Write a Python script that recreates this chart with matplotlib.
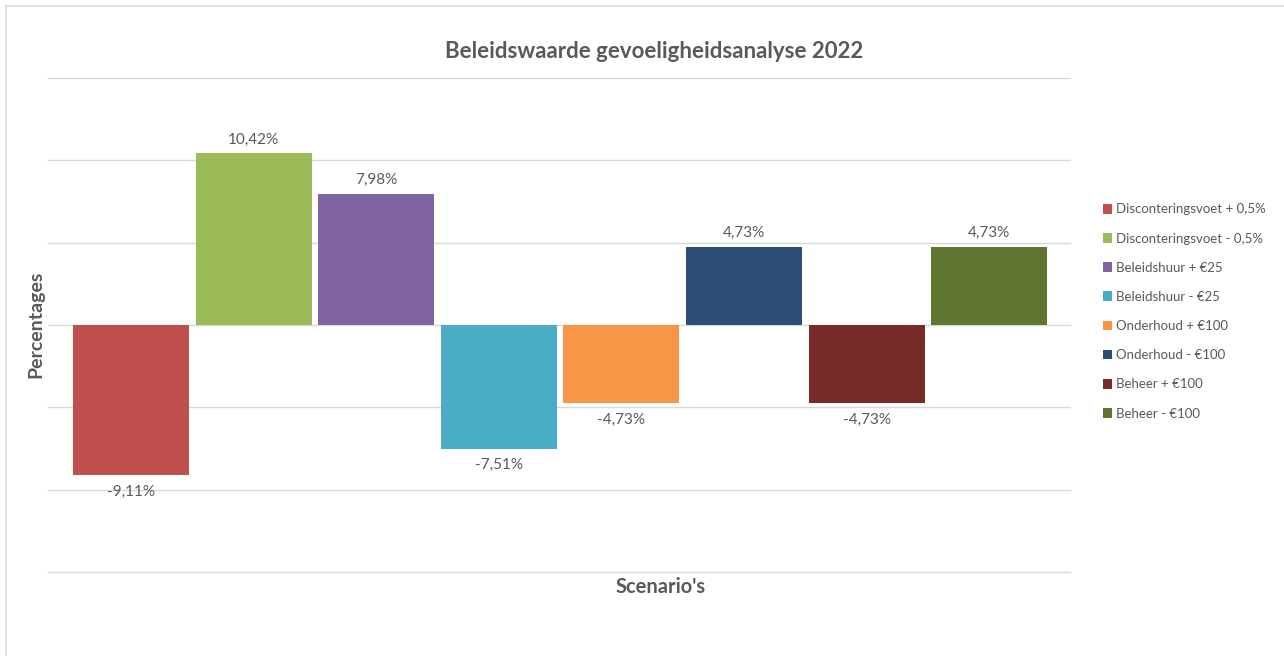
import matplotlib
matplotlib.use("Agg")
import matplotlib.pyplot as plt
from matplotlib.lines import Line2D

plt.rcParams['font.family'] = ['Lato', 'DejaVu Sans']

scenarios = ["Disconteringsvoet + 0,5%", "Disconteringsvoet - 0,5%", "Beleidshuur + €25",
             "Beleidshuur - €25", "Onderhoud + €100", "Onderhoud - €100",
             "Beheer + €100", "Beheer - €100"]
values = [-9.11, 10.42, 7.98, -7.51, -4.73, 4.73, -4.73, 4.73]
colors = ["#C0504D", "#9BBB59", "#8064A2", "#4BACC6", "#F79646", "#2C4D75", "#772C2A", "#5F7530"]
gridticks = [-15, -10, -5, 0, 5, 10, 15]

W, H = 1284, 656
fig = plt.figure(figsize=(W / 100, H / 100), dpi=100)
ax = fig.add_axes([48 / W, 1 - 572 / H, (1070 - 48) / W, (572 - 78) / H])

text_col = "#595959"
for i, (lab, v, c) in enumerate(zip(scenarios, values, colors)):
    ax.bar(i, v, width=0.946, color=c, label=lab, zorder=3)
    txt = f"{v:.2f}%".replace(".", ",")
    if v >= 0:
        ax.annotate(txt, (i, v), xytext=(0, 5), textcoords="offset points",
                    ha="center", va="bottom", fontsize=11, color=text_col)
    else:
        ax.annotate(txt, (i, v), xytext=(0, -7), textcoords="offset points",
                    ha="center", va="top", fontsize=11, color=text_col)

ax.set_ylim(-15, 15)
ax.set_xlim(-0.677, 7.659)
for g in gridticks:
    ax.axhline(g, color="#D9D9D9", linewidth=1.0, zorder=0, clip_on=False)
ax.tick_params(left=False, bottom=False, labelleft=False, labelbottom=False)
for s in ax.spines.values():
    s.set_visible(False)

fig.text(654 / W, 1 - 52 / H, "Beleidswaarde gevoeligheidsanalyse 2022", ha="center", va="center",
         fontsize=16, fontweight="bold", color=text_col)
fig.text(661 / W, 1 - 587 / H, "Scenario's", ha="center", va="center",
         fontsize=14.5, fontweight="bold", color=text_col)
fig.text(36 / W, 1 - 324 / H, "Percentages", ha="center", va="center", rotation=90,
         fontsize=14, fontweight="bold", color=text_col)

leg = fig.legend(loc="center left", bbox_to_anchor=(1096 / W, 1 - 311.5 / H), frameon=False,
                 fontsize=9.5, labelcolor=text_col, handlelength=0.75, handleheight=0.75,
                 handletextpad=0.3, labelspacing=1.3, borderpad=0)

# chart border (top and left visible)
fig.add_artist(Line2D([6 / W, 6 / W], [0, 1 - 6 / H], color="#D9D9D9", lw=1.2))
fig.add_artist(Line2D([6 / W, 1], [1 - 6 / H, 1 - 6 / H], color="#D9D9D9", lw=1.2))

fig.savefig("out.png", dpi=100, facecolor="white")
